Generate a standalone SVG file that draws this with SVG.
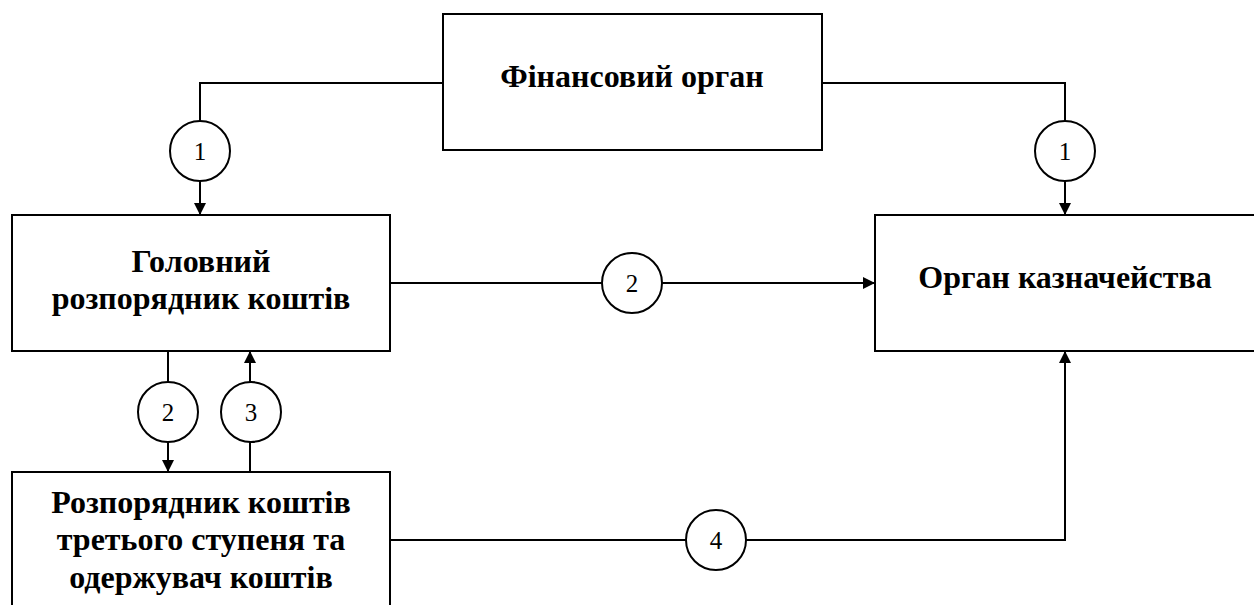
<svg xmlns="http://www.w3.org/2000/svg" width="1254" height="605" viewBox="0 0 1254 605">
<style>
.box{fill:#fff;stroke:#000;stroke-width:2}
.t{font-family:"Liberation Serif","Times New Roman",serif;font-weight:bold;font-size:32px;text-anchor:middle;fill:#000}
.c{fill:#fff;stroke:#000;stroke-width:2}
.n{font-family:"Liberation Serif","Times New Roman",serif;font-size:25px;text-anchor:middle;fill:#000}
.ln{fill:none;stroke:#000;stroke-width:2}
</style>
<defs>
<marker id="ar" markerWidth="12" markerHeight="12" refX="11" refY="6" orient="auto" markerUnits="userSpaceOnUse">
<path d="M0,0 L12,6 L0,12 Z" fill="#000"/>
</marker>
</defs>
<g id="connectors">
<path class="ln" d="M443,83 H200 V214" marker-end="url(#ar)"/>
<path class="ln" d="M822,83 H1065 V214" marker-end="url(#ar)"/>
<path class="ln" d="M390,283 H874" marker-end="url(#ar)"/>
<path class="ln" d="M168,351 V471" marker-end="url(#ar)"/>
<path class="ln" d="M250,472 V352" marker-end="url(#ar)"/>
<path class="ln" d="M390,540 H1065 V352" marker-end="url(#ar)"/>
<g id="lbl1a"><circle class="c" cx="200" cy="151" r="30"/><text class="n" x="200" y="160">1</text></g>
<g id="lbl1b"><circle class="c" cx="1065" cy="151" r="30"/><text class="n" x="1065" y="160">1</text></g>
<g id="lbl2a"><circle class="c" cx="632" cy="283" r="30"/><text class="n" x="632" y="292">2</text></g>
<g id="lbl2b"><circle class="c" cx="168" cy="412" r="30"/><text class="n" x="168" y="421">2</text></g>
<g id="lbl3"><circle class="c" cx="251" cy="412" r="30"/><text class="n" x="251" y="421">3</text></g>
<g id="lbl4"><circle class="c" cx="716" cy="540" r="30"/><text class="n" x="716" y="549">4</text></g>
</g>
<g id="fin"><rect class="box" x="443" y="14" width="379" height="136"/><text class="t" x="632" y="87">Фінансовий орган</text></g>
<g id="head"><rect class="box" x="12" y="215" width="378" height="136"/><text class="t" x="201" y="272">Головний</text><text class="t" x="201" y="309">розпорядник коштів</text></g>
<g id="treas"><rect class="box" x="875" y="215" width="390" height="136"/><text class="t" x="1065" y="288">Орган казначейства</text></g>
<g id="third"><rect class="box" x="12" y="472" width="378" height="150"/><text class="t" x="201" y="513">Розпорядник коштів</text><text class="t" x="201" y="550">третього ступеня та</text><text class="t" x="201" y="588">одержувач коштів</text></g>
</svg>
